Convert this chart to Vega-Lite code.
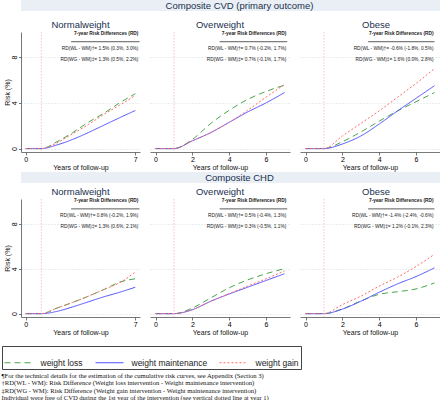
{
"$schema": "https://vega.github.io/schema/vega-lite/v6.json",
"padding": {"left": 1, "top": 0, "right": 0, "bottom": 0},
"background": "white",
"datasets": {
"c": [
{"o":"CVD","b":"Normalweight","g":"weight loss","yr":0,"r":0},{"o":"CVD","b":"Normalweight","g":"weight loss","yr":1,"r":0},{"o":"CVD","b":"Normalweight","g":"weight loss","yr":2,"r":0.6},{"o":"CVD","b":"Normalweight","g":"weight loss","yr":3,"r":1.4},{"o":"CVD","b":"Normalweight","g":"weight loss","yr":4,"r":2.3},{"o":"CVD","b":"Normalweight","g":"weight loss","yr":5,"r":3.1},{"o":"CVD","b":"Normalweight","g":"weight loss","yr":6,"r":4.0},{"o":"CVD","b":"Normalweight","g":"weight loss","yr":7,"r":4.8},
{"o":"CVD","b":"Normalweight","g":"weight maintenance","yr":0,"r":0},{"o":"CVD","b":"Normalweight","g":"weight maintenance","yr":1,"r":0},{"o":"CVD","b":"Normalweight","g":"weight maintenance","yr":2,"r":0.32},{"o":"CVD","b":"Normalweight","g":"weight maintenance","yr":3,"r":0.8},{"o":"CVD","b":"Normalweight","g":"weight maintenance","yr":4,"r":1.4},{"o":"CVD","b":"Normalweight","g":"weight maintenance","yr":5,"r":2.05},{"o":"CVD","b":"Normalweight","g":"weight maintenance","yr":6,"r":2.7},{"o":"CVD","b":"Normalweight","g":"weight maintenance","yr":7,"r":3.33},
{"o":"CVD","b":"Normalweight","g":"weight gain","yr":0,"r":0},{"o":"CVD","b":"Normalweight","g":"weight gain","yr":1,"r":0},{"o":"CVD","b":"Normalweight","g":"weight gain","yr":2,"r":0.5},{"o":"CVD","b":"Normalweight","g":"weight gain","yr":3,"r":1.3},{"o":"CVD","b":"Normalweight","g":"weight gain","yr":4,"r":2.1},{"o":"CVD","b":"Normalweight","g":"weight gain","yr":5,"r":3.0},{"o":"CVD","b":"Normalweight","g":"weight gain","yr":6,"r":3.8},{"o":"CVD","b":"Normalweight","g":"weight gain","yr":7,"r":4.65},
{"o":"CVD","b":"Overweight","g":"weight loss","yr":0,"r":0},{"o":"CVD","b":"Overweight","g":"weight loss","yr":1,"r":0},{"o":"CVD","b":"Overweight","g":"weight loss","yr":2,"r":0.8},{"o":"CVD","b":"Overweight","g":"weight loss","yr":3,"r":2.2},{"o":"CVD","b":"Overweight","g":"weight loss","yr":4,"r":3.35},{"o":"CVD","b":"Overweight","g":"weight loss","yr":5,"r":4.3},{"o":"CVD","b":"Overweight","g":"weight loss","yr":6,"r":5.0},{"o":"CVD","b":"Overweight","g":"weight loss","yr":7,"r":5.55},
{"o":"CVD","b":"Overweight","g":"weight maintenance","yr":0,"r":0},{"o":"CVD","b":"Overweight","g":"weight maintenance","yr":1,"r":0},{"o":"CVD","b":"Overweight","g":"weight maintenance","yr":2,"r":0.68},{"o":"CVD","b":"Overweight","g":"weight maintenance","yr":3,"r":1.4},{"o":"CVD","b":"Overweight","g":"weight maintenance","yr":4,"r":2.3},{"o":"CVD","b":"Overweight","g":"weight maintenance","yr":5,"r":3.2},{"o":"CVD","b":"Overweight","g":"weight maintenance","yr":6,"r":4.0},{"o":"CVD","b":"Overweight","g":"weight maintenance","yr":7,"r":4.9},
{"o":"CVD","b":"Overweight","g":"weight gain","yr":0,"r":0},{"o":"CVD","b":"Overweight","g":"weight gain","yr":1,"r":0},{"o":"CVD","b":"Overweight","g":"weight gain","yr":2,"r":0.68},{"o":"CVD","b":"Overweight","g":"weight gain","yr":3,"r":1.4},{"o":"CVD","b":"Overweight","g":"weight gain","yr":4,"r":2.3},{"o":"CVD","b":"Overweight","g":"weight gain","yr":5,"r":3.35},{"o":"CVD","b":"Overweight","g":"weight gain","yr":6,"r":4.5},{"o":"CVD","b":"Overweight","g":"weight gain","yr":7,"r":5.6},
{"o":"CVD","b":"Obese","g":"weight loss","yr":0,"r":0},{"o":"CVD","b":"Obese","g":"weight loss","yr":1,"r":0},{"o":"CVD","b":"Obese","g":"weight loss","yr":2,"r":0.6},{"o":"CVD","b":"Obese","g":"weight loss","yr":3,"r":1.45},{"o":"CVD","b":"Obese","g":"weight loss","yr":4,"r":2.4},{"o":"CVD","b":"Obese","g":"weight loss","yr":5,"r":3.3},{"o":"CVD","b":"Obese","g":"weight loss","yr":6,"r":4.1},{"o":"CVD","b":"Obese","g":"weight loss","yr":7,"r":4.9},
{"o":"CVD","b":"Obese","g":"weight maintenance","yr":0,"r":0},{"o":"CVD","b":"Obese","g":"weight maintenance","yr":1,"r":0},{"o":"CVD","b":"Obese","g":"weight maintenance","yr":2,"r":0.4},{"o":"CVD","b":"Obese","g":"weight maintenance","yr":3,"r":1.1},{"o":"CVD","b":"Obese","g":"weight maintenance","yr":4,"r":2.15},{"o":"CVD","b":"Obese","g":"weight maintenance","yr":5,"r":3.3},{"o":"CVD","b":"Obese","g":"weight maintenance","yr":6,"r":4.4},{"o":"CVD","b":"Obese","g":"weight maintenance","yr":7,"r":5.5},
{"o":"CVD","b":"Obese","g":"weight gain","yr":0,"r":0},{"o":"CVD","b":"Obese","g":"weight gain","yr":1,"r":0},{"o":"CVD","b":"Obese","g":"weight gain","yr":2,"r":1.1},{"o":"CVD","b":"Obese","g":"weight gain","yr":3,"r":2.2},{"o":"CVD","b":"Obese","g":"weight gain","yr":4,"r":3.3},{"o":"CVD","b":"Obese","g":"weight gain","yr":5,"r":4.5},{"o":"CVD","b":"Obese","g":"weight gain","yr":6,"r":5.7},{"o":"CVD","b":"Obese","g":"weight gain","yr":7,"r":7.0},
{"o":"CHD","b":"Normalweight","g":"weight loss","yr":0,"r":0},{"o":"CHD","b":"Normalweight","g":"weight loss","yr":1,"r":0},{"o":"CHD","b":"Normalweight","g":"weight loss","yr":2,"r":0.5},{"o":"CHD","b":"Normalweight","g":"weight loss","yr":3,"r":1.0},{"o":"CHD","b":"Normalweight","g":"weight loss","yr":4,"r":1.55},{"o":"CHD","b":"Normalweight","g":"weight loss","yr":5,"r":2.15},{"o":"CHD","b":"Normalweight","g":"weight loss","yr":6,"r":2.8},{"o":"CHD","b":"Normalweight","g":"weight loss","yr":7,"r":3.1},
{"o":"CHD","b":"Normalweight","g":"weight maintenance","yr":0,"r":0},{"o":"CHD","b":"Normalweight","g":"weight maintenance","yr":1,"r":0},{"o":"CHD","b":"Normalweight","g":"weight maintenance","yr":2,"r":0.2},{"o":"CHD","b":"Normalweight","g":"weight maintenance","yr":3,"r":0.6},{"o":"CHD","b":"Normalweight","g":"weight maintenance","yr":4,"r":1.05},{"o":"CHD","b":"Normalweight","g":"weight maintenance","yr":5,"r":1.5},{"o":"CHD","b":"Normalweight","g":"weight maintenance","yr":6,"r":1.9},{"o":"CHD","b":"Normalweight","g":"weight maintenance","yr":7,"r":2.35},
{"o":"CHD","b":"Normalweight","g":"weight gain","yr":0,"r":0},{"o":"CHD","b":"Normalweight","g":"weight gain","yr":1,"r":0},{"o":"CHD","b":"Normalweight","g":"weight gain","yr":2,"r":0.5},{"o":"CHD","b":"Normalweight","g":"weight gain","yr":3,"r":1.0},{"o":"CHD","b":"Normalweight","g":"weight gain","yr":4,"r":1.55},{"o":"CHD","b":"Normalweight","g":"weight gain","yr":5,"r":2.15},{"o":"CHD","b":"Normalweight","g":"weight gain","yr":6,"r":2.75},{"o":"CHD","b":"Normalweight","g":"weight gain","yr":7,"r":3.7},
{"o":"CHD","b":"Overweight","g":"weight loss","yr":0,"r":0},{"o":"CHD","b":"Overweight","g":"weight loss","yr":1,"r":0},{"o":"CHD","b":"Overweight","g":"weight loss","yr":2,"r":0.5},{"o":"CHD","b":"Overweight","g":"weight loss","yr":3,"r":1.4},{"o":"CHD","b":"Overweight","g":"weight loss","yr":4,"r":2.3},{"o":"CHD","b":"Overweight","g":"weight loss","yr":5,"r":3.0},{"o":"CHD","b":"Overweight","g":"weight loss","yr":6,"r":3.55},{"o":"CHD","b":"Overweight","g":"weight loss","yr":7,"r":4.0},
{"o":"CHD","b":"Overweight","g":"weight maintenance","yr":0,"r":0},{"o":"CHD","b":"Overweight","g":"weight maintenance","yr":1,"r":0},{"o":"CHD","b":"Overweight","g":"weight maintenance","yr":2,"r":0.35},{"o":"CHD","b":"Overweight","g":"weight maintenance","yr":3,"r":1.1},{"o":"CHD","b":"Overweight","g":"weight maintenance","yr":4,"r":1.75},{"o":"CHD","b":"Overweight","g":"weight maintenance","yr":5,"r":2.35},{"o":"CHD","b":"Overweight","g":"weight maintenance","yr":6,"r":2.95},{"o":"CHD","b":"Overweight","g":"weight maintenance","yr":7,"r":3.55},
{"o":"CHD","b":"Overweight","g":"weight gain","yr":0,"r":0},{"o":"CHD","b":"Overweight","g":"weight gain","yr":1,"r":0},{"o":"CHD","b":"Overweight","g":"weight gain","yr":2,"r":0.35},{"o":"CHD","b":"Overweight","g":"weight gain","yr":3,"r":1.1},{"o":"CHD","b":"Overweight","g":"weight gain","yr":4,"r":1.78},{"o":"CHD","b":"Overweight","g":"weight gain","yr":5,"r":2.45},{"o":"CHD","b":"Overweight","g":"weight gain","yr":6,"r":3.1},{"o":"CHD","b":"Overweight","g":"weight gain","yr":7,"r":3.8},
{"o":"CHD","b":"Obese","g":"weight loss","yr":0,"r":0},{"o":"CHD","b":"Obese","g":"weight loss","yr":1,"r":0},{"o":"CHD","b":"Obese","g":"weight loss","yr":2,"r":0.42},{"o":"CHD","b":"Obese","g":"weight loss","yr":3,"r":1.12},{"o":"CHD","b":"Obese","g":"weight loss","yr":4,"r":1.72},{"o":"CHD","b":"Obese","g":"weight loss","yr":5,"r":1.95},{"o":"CHD","b":"Obese","g":"weight loss","yr":6,"r":2.2},{"o":"CHD","b":"Obese","g":"weight loss","yr":7,"r":2.73},
{"o":"CHD","b":"Obese","g":"weight maintenance","yr":0,"r":0},{"o":"CHD","b":"Obese","g":"weight maintenance","yr":1,"r":0},{"o":"CHD","b":"Obese","g":"weight maintenance","yr":2,"r":0.4},{"o":"CHD","b":"Obese","g":"weight maintenance","yr":3,"r":1.1},{"o":"CHD","b":"Obese","g":"weight maintenance","yr":4,"r":1.9},{"o":"CHD","b":"Obese","g":"weight maintenance","yr":5,"r":2.65},{"o":"CHD","b":"Obese","g":"weight maintenance","yr":6,"r":3.3},{"o":"CHD","b":"Obese","g":"weight maintenance","yr":7,"r":4.07},
{"o":"CHD","b":"Obese","g":"weight gain","yr":0,"r":0},{"o":"CHD","b":"Obese","g":"weight gain","yr":1,"r":0},{"o":"CHD","b":"Obese","g":"weight gain","yr":2,"r":0.8},{"o":"CHD","b":"Obese","g":"weight gain","yr":3,"r":1.55},{"o":"CHD","b":"Obese","g":"weight gain","yr":4,"r":2.45},{"o":"CHD","b":"Obese","g":"weight gain","yr":5,"r":3.25},{"o":"CHD","b":"Obese","g":"weight gain","yr":6,"r":4.2},{"o":"CHD","b":"Obese","g":"weight gain","yr":7,"r":5.28}
],
"n": [
{"o":"CVD","b":"Normalweight","k":"a","t":"RD(WL - WM)†= 1.5% (0.3%, 3.0%)"},
{"o":"CVD","b":"Normalweight","k":"b","t":"RD(WG - WM)‡= 1.3% (0.5%, 2.2%)"},
{"o":"CVD","b":"Overweight","k":"a","t":"RD(WL - WM)†= 0.7% (-0.2%, 1.7%)"},
{"o":"CVD","b":"Overweight","k":"b","t":"RD(WG - WM)‡= 0.7% (-0.1%, 1.7%)"},
{"o":"CVD","b":"Obese","k":"a","t":"RD(WL - WM)†= -0.6% (-1.8%, 0.5%)"},
{"o":"CVD","b":"Obese","k":"b","t":"RD(WG - WM)‡= 1.6% (0.0%, 2.8%)"},
{"o":"CHD","b":"Normalweight","k":"a","t":"RD(WL - WM)†= 0.8% (-0.2%, 1.9%)"},
{"o":"CHD","b":"Normalweight","k":"b","t":"RD(WG - WM)‡= 1.3% (0.6%, 2.1%)"},
{"o":"CHD","b":"Overweight","k":"a","t":"RD(WL - WM)†= 0.5% (-0.4%, 1.3%)"},
{"o":"CHD","b":"Overweight","k":"b","t":"RD(WG - WM)‡= 0.3% (-0.5%, 1.1%)"},
{"o":"CHD","b":"Obese","k":"a","t":"RD(WL - WM)†= -1.4% (-2.4%, -0.6%)"},
{"o":"CHD","b":"Obese","k":"b","t":"RD(WG - WM)‡= 1.2% (-0.1%, 2.3%)"}
]
},
"config": {
"view": {"stroke": null},
"font": "Liberation Sans",
"axis": {"labelFont": "Liberation Sans", "titleFont": "Liberation Sans", "titleFontWeight": "normal", "labelColor": "#000", "titleColor": "#111", "domainColor": "#555", "tickColor": "#555", "labelFontSize": 7, "titleFontSize": 7, "tickSize": 3, "domainWidth": 0.8, "tickWidth": 0.8, "labelOverlap": false, "labelFlush": false, "labelBound": false, "labelPadding": 0, "titlePadding": 1},
"title": {"font": "Liberation Sans", "fontWeight": "normal", "color": "#1a2f4f", "fontSize": 9.5, "offset": 2},
"legend": {"direction": "horizontal", "symbolType": "stroke", "symbolSize": 784, "symbolStrokeWidth": 1.1, "labelFontSize": 8.5, "labelFont": "Liberation Sans", "labelColor": "#222", "labelOffset": 7, "columnPadding": 9, "strokeColor": "#444", "padding": 1.5, "labelLimit": 300}
},
"title": {"text": ["¶For the technical details for the estimation of the cumulative risk curves, see Appendix (Section 3)", "†RD(WL - WM): Risk Difference (Weight loss intervention - Weight maintenance intervention)", "‡RD(WG - WM): Risk Difference (Weight gain intervention - Weight maintenance intervention)", "Individual were free of CVD during the 1st year of the intervention (see vertical dotted line at year 1)"], "orient": "bottom", "anchor": "start", "frame": "bounds", "font": "Liberation Serif", "fontSize": 6.6, "fontWeight": "normal", "color": "#111", "lineHeight": 7.6, "offset": 3},
"spacing": 2,
"vconcat": [
{"spacing": 8, "vconcat": [
{"width": 437, "height": 11, "view": {"fill": "#e9eff4", "stroke": null}, "data": {"values": [{"t": "Composite CVD (primary outcome)"}]}, "mark": {"type": "text", "fontSize": 9.5, "color": "#1a2f4f", "font": "Liberation Sans"}, "encoding": {"text": {"field": "t"}}},
{"spacing": 10, "hconcat": [
{"width": 119, "height": 120, "title": "Normalweight", "layer": [
{"data": {"name": "c"}, "transform": [{"filter": "datum.o == 'CVD' && datum.b == 'Normalweight'"}], "mark": {"type": "line", "strokeWidth": 1, "interpolate": "monotone"}, "encoding": {
"x": {"field": "yr", "type": "quantitative", "scale": {"domain": [-0.3, 7.3], "nice": false, "zero": false}, "axis": {"values": [0,1,2,3,4,5,6,7], "labelOverlap": false, "title": "Years of follow-up", "grid": false}},
"y": {"field": "r", "type": "quantitative", "scale": {"domain": [-0.3, 10.2], "nice": false, "zero": false}, "axis": {"values": [0,2,4,6,8,10], "labelOverlap": false, "title": "Risk (%)", "labelAngle": -90, "labelAlign": "center", "labelBaseline": "bottom", "labelPadding": 1, "titlePadding": 0, "tickSize": 2.5, "grid": true, "gridDash": [1, 2], "gridColor": "#d3dde3"}},
"color": {"field": "g", "type": "nominal", "title": null, "legend": {"orient": "none", "legendX": -19, "legendY": 346}, "scale": {"domain": ["weight loss", "weight maintenance", "weight gain"], "range": ["#4aa64a", "#4f4fff", "#ff6b6b"]}},
"strokeDash": {"field": "g", "type": "nominal", "title": null, "legend": {"orient": "none", "legendX": -19, "legendY": 346}, "scale": {"domain": ["weight loss", "weight maintenance", "weight gain"], "range": [[6, 4], [1, 0], [2, 2]]}}}},
{"data": {"values": [{}]}, "mark": {"type": "rule", "color": "#f4b3c4", "strokeDash": [1.5, 1.5], "strokeWidth": 0.8}, "encoding": {"x": {"datum": 1, "type": "quantitative"}}},
{"data": {"values": [{}]}, "mark": {"type": "text", "text": "7-year Risk Differences (RD)", "fontSize": 4.8, "fontWeight": "bold", "align": "right", "color": "#222"}, "encoding": {"x": {"datum": 7.2}, "y": {"datum": 10}}},
{"data": {"values": [{}]}, "mark": {"type": "rule", "color": "#333", "strokeWidth": 0.8}, "encoding": {"x": {"datum": 2.9}, "x2": {"datum": 7.27}, "y": {"datum": 9.35}}},
{"data": {"name": "n"}, "transform": [{"filter": "datum.o == 'CVD' && datum.b == 'Normalweight' && datum.k == 'a'"}], "mark": {"type": "text", "fontSize": 4.8, "align": "right", "color": "#222"}, "encoding": {"x": {"datum": 7.2}, "y": {"datum": 8.67}, "text": {"field": "t"}}},
{"data": {"name": "n"}, "transform": [{"filter": "datum.o == 'CVD' && datum.b == 'Normalweight' && datum.k == 'b'"}], "mark": {"type": "text", "fontSize": 4.8, "align": "right", "color": "#222"}, "encoding": {"x": {"datum": 7.2}, "y": {"datum": 7.78}, "text": {"field": "t"}}}
]},
{"width": 140, "height": 120, "title": "Overweight", "layer": [
{"data": {"name": "c"}, "transform": [{"filter": "datum.o == 'CVD' && datum.b == 'Overweight'"}], "mark": {"type": "line", "strokeWidth": 1, "interpolate": "monotone"}, "encoding": {
"x": {"field": "yr", "type": "quantitative", "scale": {"domain": [-0.3, 7.3], "nice": false, "zero": false}, "axis": {"values": [0,1,2,3,4,5,6,7], "labelOverlap": false, "title": "Years of follow-up", "grid": false}},
"y": {"field": "r", "type": "quantitative", "scale": {"domain": [-0.3, 10.2], "nice": false, "zero": false}, "axis": {"values": [0,2,4,6,8,10], "title": null, "labels": false, "ticks": false, "domain": false, "grid": true, "gridDash": [1, 2], "gridColor": "#d3dde3"}},
"color": {"field": "g", "type": "nominal", "title": null, "legend": {"orient": "none", "legendX": -19, "legendY": 346}, "scale": {"domain": ["weight loss", "weight maintenance", "weight gain"], "range": ["#4aa64a", "#4f4fff", "#ff6b6b"]}},
"strokeDash": {"field": "g", "type": "nominal", "title": null, "legend": {"orient": "none", "legendX": -19, "legendY": 346}, "scale": {"domain": ["weight loss", "weight maintenance", "weight gain"], "range": [[6, 4], [1, 0], [2, 2]]}}}},
{"data": {"values": [{}]}, "mark": {"type": "rule", "color": "#f4b3c4", "strokeDash": [1.5, 1.5], "strokeWidth": 0.8}, "encoding": {"x": {"datum": 1, "type": "quantitative"}}},
{"data": {"values": [{}]}, "mark": {"type": "text", "text": "7-year Risk Differences (RD)", "fontSize": 4.8, "fontWeight": "bold", "align": "right", "color": "#222"}, "encoding": {"x": {"datum": 7.1}, "y": {"datum": 10}}},
{"data": {"values": [{}]}, "mark": {"type": "rule", "color": "#333", "strokeWidth": 0.8}, "encoding": {"x": {"datum": 3.48}, "x2": {"datum": 7.15}, "y": {"datum": 9.35}}},
{"data": {"name": "n"}, "transform": [{"filter": "datum.o == 'CVD' && datum.b == 'Overweight' && datum.k == 'a'"}], "mark": {"type": "text", "fontSize": 4.8, "align": "right", "color": "#222"}, "encoding": {"x": {"datum": 7.1}, "y": {"datum": 8.67}, "text": {"field": "t"}}},
{"data": {"name": "n"}, "transform": [{"filter": "datum.o == 'CVD' && datum.b == 'Overweight' && datum.k == 'b'"}], "mark": {"type": "text", "fontSize": 4.8, "align": "right", "color": "#222"}, "encoding": {"x": {"datum": 7.1}, "y": {"datum": 7.78}, "text": {"field": "t"}}}
]},
{"width": 140, "height": 120, "title": {"text": "Obese", "dx": 6}, "layer": [
{"data": {"name": "c"}, "transform": [{"filter": "datum.o == 'CVD' && datum.b == 'Obese'"}], "mark": {"type": "line", "strokeWidth": 1, "interpolate": "monotone"}, "encoding": {
"x": {"field": "yr", "type": "quantitative", "scale": {"domain": [-0.3, 7.3], "nice": false, "zero": false}, "axis": {"values": [0,1,2,3,4,5,6,7], "labelOverlap": false, "title": "Years of follow-up", "grid": false}},
"y": {"field": "r", "type": "quantitative", "scale": {"domain": [-0.3, 10.2], "nice": false, "zero": false}, "axis": {"values": [0,2,4,6,8,10], "title": null, "labels": false, "ticks": false, "domain": false, "grid": true, "gridDash": [1, 2], "gridColor": "#d3dde3"}},
"color": {"field": "g", "type": "nominal", "title": null, "legend": {"orient": "none", "legendX": -19, "legendY": 346}, "scale": {"domain": ["weight loss", "weight maintenance", "weight gain"], "range": ["#4aa64a", "#4f4fff", "#ff6b6b"]}},
"strokeDash": {"field": "g", "type": "nominal", "title": null, "legend": {"orient": "none", "legendX": -19, "legendY": 346}, "scale": {"domain": ["weight loss", "weight maintenance", "weight gain"], "range": [[6, 4], [1, 0], [2, 2]]}}}},
{"data": {"values": [{}]}, "mark": {"type": "rule", "color": "#f4b3c4", "strokeDash": [1.5, 1.5], "strokeWidth": 0.8}, "encoding": {"x": {"datum": 1, "type": "quantitative"}}},
{"data": {"values": [{}]}, "mark": {"type": "text", "text": "7-year Risk Differences (RD)", "fontSize": 4.8, "fontWeight": "bold", "align": "right", "color": "#222"}, "encoding": {"x": {"datum": 6.95}, "y": {"datum": 10}}},
{"data": {"values": [{}]}, "mark": {"type": "rule", "color": "#333", "strokeWidth": 0.8}, "encoding": {"x": {"datum": 3.4}, "x2": {"datum": 7.0}, "y": {"datum": 9.35}}},
{"data": {"name": "n"}, "transform": [{"filter": "datum.o == 'CVD' && datum.b == 'Obese' && datum.k == 'a'"}], "mark": {"type": "text", "fontSize": 4.8, "align": "right", "color": "#222"}, "encoding": {"x": {"datum": 6.95}, "y": {"datum": 8.67}, "text": {"field": "t"}}},
{"data": {"name": "n"}, "transform": [{"filter": "datum.o == 'CVD' && datum.b == 'Obese' && datum.k == 'b'"}], "mark": {"type": "text", "fontSize": 4.8, "align": "right", "color": "#222"}, "encoding": {"x": {"datum": 6.95}, "y": {"datum": 7.78}, "text": {"field": "t"}}}
]}
]}
]},
{"spacing": 3, "vconcat": [
{"width": 437, "height": 11, "view": {"fill": "#e9eff4", "stroke": null}, "data": {"values": [{"t": "Composite CHD"}]}, "mark": {"type": "text", "fontSize": 9.5, "color": "#1a2f4f", "font": "Liberation Sans"}, "encoding": {"text": {"field": "t"}}},
{"spacing": 10, "hconcat": [
{"width": 119, "height": 118, "title": "Normalweight", "layer": [
{"data": {"name": "c"}, "transform": [{"filter": "datum.o == 'CHD' && datum.b == 'Normalweight'"}], "mark": {"type": "line", "strokeWidth": 1, "interpolate": "monotone"}, "encoding": {
"x": {"field": "yr", "type": "quantitative", "scale": {"domain": [-0.3, 7.3], "nice": false, "zero": false}, "axis": {"values": [0,1,2,3,4,5,6,7], "labelOverlap": false, "title": "Years of follow-up", "grid": false}},
"y": {"field": "r", "type": "quantitative", "scale": {"domain": [-0.3, 10.2], "nice": false, "zero": false}, "axis": {"values": [0,2,4,6,8,10], "labelOverlap": false, "title": "Risk (%)", "labelAngle": -90, "labelAlign": "center", "labelBaseline": "bottom", "labelPadding": 1, "titlePadding": 0, "tickSize": 2.5, "grid": true, "gridDash": [1, 2], "gridColor": "#d3dde3"}},
"color": {"field": "g", "type": "nominal", "title": null, "legend": {"orient": "none", "legendX": -19, "legendY": 346}, "scale": {"domain": ["weight loss", "weight maintenance", "weight gain"], "range": ["#4aa64a", "#4f4fff", "#ff6b6b"]}},
"strokeDash": {"field": "g", "type": "nominal", "title": null, "legend": {"orient": "none", "legendX": -19, "legendY": 346}, "scale": {"domain": ["weight loss", "weight maintenance", "weight gain"], "range": [[6, 4], [1, 0], [2, 2]]}}}},
{"data": {"values": [{}]}, "mark": {"type": "rule", "color": "#f4b3c4", "strokeDash": [1.5, 1.5], "strokeWidth": 0.8}, "encoding": {"x": {"datum": 1, "type": "quantitative"}}},
{"data": {"values": [{}]}, "mark": {"type": "text", "text": "7-year Risk Differences (RD)", "fontSize": 4.8, "fontWeight": "bold", "align": "right", "color": "#222"}, "encoding": {"x": {"datum": 7.2}, "y": {"datum": 10}}},
{"data": {"values": [{}]}, "mark": {"type": "rule", "color": "#333", "strokeWidth": 0.8}, "encoding": {"x": {"datum": 2.9}, "x2": {"datum": 7.27}, "y": {"datum": 9.32}}},
{"data": {"name": "n"}, "transform": [{"filter": "datum.o == 'CHD' && datum.b == 'Normalweight' && datum.k == 'a'"}], "mark": {"type": "text", "fontSize": 4.8, "align": "right", "color": "#222"}, "encoding": {"x": {"datum": 7.2}, "y": {"datum": 8.66}, "text": {"field": "t"}}},
{"data": {"name": "n"}, "transform": [{"filter": "datum.o == 'CHD' && datum.b == 'Normalweight' && datum.k == 'b'"}], "mark": {"type": "text", "fontSize": 4.8, "align": "right", "color": "#222"}, "encoding": {"x": {"datum": 7.2}, "y": {"datum": 7.74}, "text": {"field": "t"}}}
]},
{"width": 140, "height": 118, "title": "Overweight", "layer": [
{"data": {"name": "c"}, "transform": [{"filter": "datum.o == 'CHD' && datum.b == 'Overweight'"}], "mark": {"type": "line", "strokeWidth": 1, "interpolate": "monotone"}, "encoding": {
"x": {"field": "yr", "type": "quantitative", "scale": {"domain": [-0.3, 7.3], "nice": false, "zero": false}, "axis": {"values": [0,1,2,3,4,5,6,7], "labelOverlap": false, "title": "Years of follow-up", "grid": false}},
"y": {"field": "r", "type": "quantitative", "scale": {"domain": [-0.3, 10.2], "nice": false, "zero": false}, "axis": {"values": [0,2,4,6,8,10], "title": null, "labels": false, "ticks": false, "domain": false, "grid": true, "gridDash": [1, 2], "gridColor": "#d3dde3"}},
"color": {"field": "g", "type": "nominal", "title": null, "legend": {"orient": "none", "legendX": -19, "legendY": 346}, "scale": {"domain": ["weight loss", "weight maintenance", "weight gain"], "range": ["#4aa64a", "#4f4fff", "#ff6b6b"]}},
"strokeDash": {"field": "g", "type": "nominal", "title": null, "legend": {"orient": "none", "legendX": -19, "legendY": 346}, "scale": {"domain": ["weight loss", "weight maintenance", "weight gain"], "range": [[6, 4], [1, 0], [2, 2]]}}}},
{"data": {"values": [{}]}, "mark": {"type": "rule", "color": "#f4b3c4", "strokeDash": [1.5, 1.5], "strokeWidth": 0.8}, "encoding": {"x": {"datum": 1, "type": "quantitative"}}},
{"data": {"values": [{}]}, "mark": {"type": "text", "text": "7-year Risk Differences (RD)", "fontSize": 4.8, "fontWeight": "bold", "align": "right", "color": "#222"}, "encoding": {"x": {"datum": 7.1}, "y": {"datum": 10}}},
{"data": {"values": [{}]}, "mark": {"type": "rule", "color": "#333", "strokeWidth": 0.8}, "encoding": {"x": {"datum": 3.48}, "x2": {"datum": 7.15}, "y": {"datum": 9.32}}},
{"data": {"name": "n"}, "transform": [{"filter": "datum.o == 'CHD' && datum.b == 'Overweight' && datum.k == 'a'"}], "mark": {"type": "text", "fontSize": 4.8, "align": "right", "color": "#222"}, "encoding": {"x": {"datum": 7.1}, "y": {"datum": 8.66}, "text": {"field": "t"}}},
{"data": {"name": "n"}, "transform": [{"filter": "datum.o == 'CHD' && datum.b == 'Overweight' && datum.k == 'b'"}], "mark": {"type": "text", "fontSize": 4.8, "align": "right", "color": "#222"}, "encoding": {"x": {"datum": 7.1}, "y": {"datum": 7.74}, "text": {"field": "t"}}}
]},
{"width": 140, "height": 118, "title": {"text": "Obese", "dx": 6}, "layer": [
{"data": {"name": "c"}, "transform": [{"filter": "datum.o == 'CHD' && datum.b == 'Obese'"}], "mark": {"type": "line", "strokeWidth": 1, "interpolate": "monotone"}, "encoding": {
"x": {"field": "yr", "type": "quantitative", "scale": {"domain": [-0.3, 7.3], "nice": false, "zero": false}, "axis": {"values": [0,1,2,3,4,5,6,7], "labelOverlap": false, "title": "Years of follow-up", "grid": false}},
"y": {"field": "r", "type": "quantitative", "scale": {"domain": [-0.3, 10.2], "nice": false, "zero": false}, "axis": {"values": [0,2,4,6,8,10], "title": null, "labels": false, "ticks": false, "domain": false, "grid": true, "gridDash": [1, 2], "gridColor": "#d3dde3"}},
"color": {"field": "g", "type": "nominal", "title": null, "legend": {"orient": "none", "legendX": -19, "legendY": 346}, "scale": {"domain": ["weight loss", "weight maintenance", "weight gain"], "range": ["#4aa64a", "#4f4fff", "#ff6b6b"]}},
"strokeDash": {"field": "g", "type": "nominal", "title": null, "legend": {"orient": "none", "legendX": -19, "legendY": 346}, "scale": {"domain": ["weight loss", "weight maintenance", "weight gain"], "range": [[6, 4], [1, 0], [2, 2]]}}}},
{"data": {"values": [{}]}, "mark": {"type": "rule", "color": "#f4b3c4", "strokeDash": [1.5, 1.5], "strokeWidth": 0.8}, "encoding": {"x": {"datum": 1, "type": "quantitative"}}},
{"data": {"values": [{}]}, "mark": {"type": "text", "text": "7-year Risk Differences (RD)", "fontSize": 4.8, "fontWeight": "bold", "align": "right", "color": "#222"}, "encoding": {"x": {"datum": 6.95}, "y": {"datum": 10}}},
{"data": {"values": [{}]}, "mark": {"type": "rule", "color": "#333", "strokeWidth": 0.8}, "encoding": {"x": {"datum": 3.4}, "x2": {"datum": 7.0}, "y": {"datum": 9.32}}},
{"data": {"name": "n"}, "transform": [{"filter": "datum.o == 'CHD' && datum.b == 'Obese' && datum.k == 'a'"}], "mark": {"type": "text", "fontSize": 4.8, "align": "right", "color": "#222"}, "encoding": {"x": {"datum": 6.95}, "y": {"datum": 8.66}, "text": {"field": "t"}}},
{"data": {"name": "n"}, "transform": [{"filter": "datum.o == 'CHD' && datum.b == 'Obese' && datum.k == 'b'"}], "mark": {"type": "text", "fontSize": 4.8, "align": "right", "color": "#222"}, "encoding": {"x": {"datum": 6.95}, "y": {"datum": 7.74}, "text": {"field": "t"}}}
]}
]}
]}
]
}
